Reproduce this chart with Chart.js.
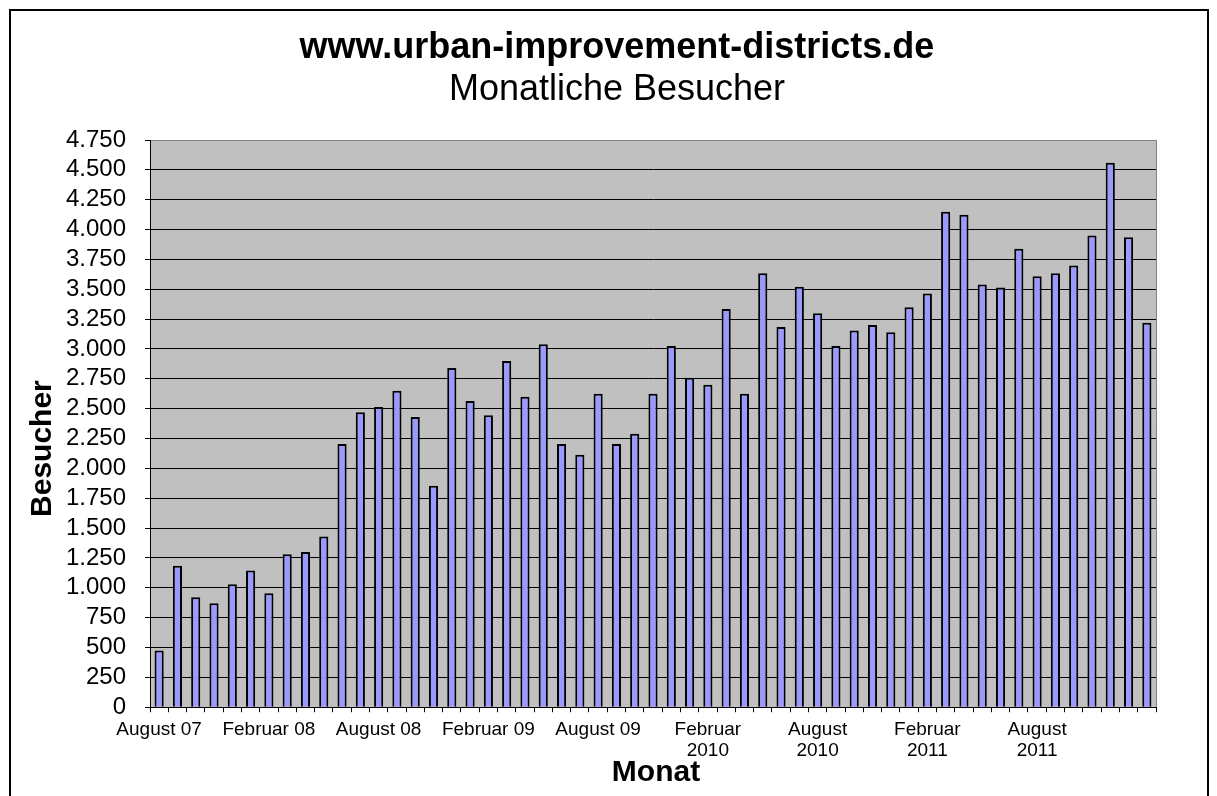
<!DOCTYPE html>
<html>
<head>
<meta charset="utf-8">
<title>Monatliche Besucher</title>
<script src="https://cdn.jsdelivr.net/npm/chart.js@4.4.0/dist/chart.umd.min.js"></script>
<style>
  html, body { margin: 0; padding: 0; background: #fff; }
</style>
</head>
<body>
<canvas id="besucherChart" width="1217" height="796"></canvas>
<script>
// Months (categories), Aug 2007 - Feb 2012
const months = [
  "Aug 2007", "Sep 2007", "Okt 2007", "Nov 2007", "Dez 2007",
  "Jan 2008", "Feb 2008", "Mär 2008", "Apr 2008", "Mai 2008", "Jun 2008",
  "Jul 2008", "Aug 2008", "Sep 2008", "Okt 2008", "Nov 2008", "Dez 2008",
  "Jan 2009", "Feb 2009", "Mär 2009", "Apr 2009", "Mai 2009", "Jun 2009",
  "Jul 2009", "Aug 2009", "Sep 2009", "Okt 2009", "Nov 2009", "Dez 2009",
  "Jan 2010", "Feb 2010", "Mär 2010", "Apr 2010", "Mai 2010", "Jun 2010",
  "Jul 2010", "Aug 2010", "Sep 2010", "Okt 2010", "Nov 2010", "Dez 2010",
  "Jan 2011", "Feb 2011", "Mär 2011", "Apr 2011", "Mai 2011", "Jun 2011",
  "Jul 2011", "Aug 2011", "Sep 2011", "Okt 2011", "Nov 2011", "Dez 2011",
  "Jan 2012", "Feb 2012"
];

// Monthly visitors
const besucher = [
  475, 1185, 920, 870, 1030,
  1145, 955, 1280, 1300, 1430, 2205, 2470, 2515, 2650, 2430, 1855, 2840,
  2565, 2445, 2900, 2600, 3040, 2205, 2115, 2625, 2205, 2290, 2625, 3025,
  2760, 2700, 3335, 2625, 3635, 3185, 3520, 3300, 3025, 3155, 3200, 3140,
  3350, 3465, 4150, 4125, 3540, 3515, 3840, 3610, 3635, 3700, 3950, 4560,
  3935, 3220
];

// Only every 6th month gets a label on the x axis
const tickLabels = {
  "Aug 2007": "August 07",
  "Feb 2008": "Februar 08",
  "Aug 2008": "August 08",
  "Feb 2009": "Februar 09",
  "Aug 2009": "August 09",
  "Feb 2010": ["Februar", "2010"],
  "Aug 2010": ["August", "2010"],
  "Feb 2011": ["Februar", "2011"],
  "Aug 2011": ["August", "2011"]
};

const titleText = "www.urban-improvement-districts.de";
const subtitleText = "Monatliche Besucher";
const xTitle = "Monat";
const yTitle = "Besucher";

const FONT = "'Liberation Sans', Arial, Helvetica, sans-serif";
Chart.defaults.font.family = FONT;
Chart.defaults.color = "#000";

// German thousands separator: 4750 -> 4.750
function formatDE(v) {
  return String(v).replace(/\B(?=(\d{3})+(?!\d))/g, ".");
}

// grey plot area, outer frame, titles and axis titles (Excel look)
Chart.register({
  id: "excelFrame",
  beforeDraw: function (chart) {
    const ctx = chart.ctx;
    const a = chart.chartArea;
    ctx.save();
    ctx.fillStyle = "#c0c0c0";
    ctx.fillRect(a.left, a.top, a.right - a.left, a.bottom - a.top);
    ctx.strokeStyle = "#808080";
    ctx.lineWidth = 1;
    ctx.beginPath();
    ctx.moveTo(a.left, Math.round(a.top) + 0.5);
    ctx.lineTo(Math.round(a.right) + 0.5, Math.round(a.top) + 0.5);
    ctx.lineTo(Math.round(a.right) + 0.5, a.bottom);
    ctx.stroke();
    ctx.restore();
  },
  afterDraw: function (chart) {
    const ctx = chart.ctx;
    const a = chart.chartArea;
    ctx.save();
    ctx.strokeStyle = "#000";
    ctx.lineWidth = 2;
    ctx.strokeRect(10, 10, 1198, 810);

    ctx.fillStyle = "#000";
    ctx.textAlign = "center";
    ctx.textBaseline = "middle";
    ctx.font = "bold 36px " + FONT;
    ctx.fillText(titleText, 617, 48);
    ctx.font = "36px " + FONT;
    ctx.fillText(subtitleText, 617, 90);

    ctx.font = "bold 30px " + FONT;
    ctx.fillText(xTitle, (a.left + a.right) / 2 + 3, a.bottom + 66);

    ctx.translate(43, (a.top + a.bottom) / 2 + 25);
    ctx.rotate(-Math.PI / 2);
    ctx.fillText(yTitle, 0, 0);
    ctx.restore();
  },
});

const ctx = document.getElementById("besucherChart").getContext("2d");
const besucherChart = new Chart(ctx, {
  type: "bar",
  data: {
    labels: months,
    datasets: [
      {
        label: "Besucher",
        data: besucher,
        backgroundColor: "#9999ff",
        borderColor: "#000",
        borderWidth: 2,
        barPercentage: 0.5,
        categoryPercentage: 1.0,
      },
    ],
  },
  options: {
    responsive: false,
    animation: false,
    layout: {
      padding: { left: 40, right: 61, top: 140, bottom: 28 },
    },
    scales: {
      x: {
        offset: true,
        grid: {
          offset: true,
          drawOnChartArea: false,
          drawTicks: true,
          tickLength: 5,
          tickColor: "#000",
        },
        border: { color: "#000", width: 1 },
        ticks: {
          autoSkip: false,
          maxRotation: 0,
          minRotation: 0,
          padding: 7,
          color: "#000",
          font: { size: 19, lineHeight: 1.1 },
          callback: function (value) {
            const m = this.getLabelForValue(value);
            return tickLabels[m] || "";
          },
        },
      },
      y: {
        min: 0,
        max: 4750,
        ticks: {
          autoSkip: false,
          stepSize: 250,
          padding: 19,
          color: "#000",
          font: { size: 24 },
          callback: (v) => formatDE(v),
        },
        grid: {
          color: (c) => (c.tick && c.tick.value === 4750 ? "#808080" : "#000"),
          tickColor: "#000",
          tickLength: 5,
          lineWidth: 1,
        },
        border: { color: "#000", width: 1 },
        afterFit: function (scale) {
          scale.width = 110;
        },
      },
    },
    plugins: {
      legend: { display: false },
      tooltip: { enabled: false },
      title: { display: false },
    },
  },
});
</script>
</body>
</html>
